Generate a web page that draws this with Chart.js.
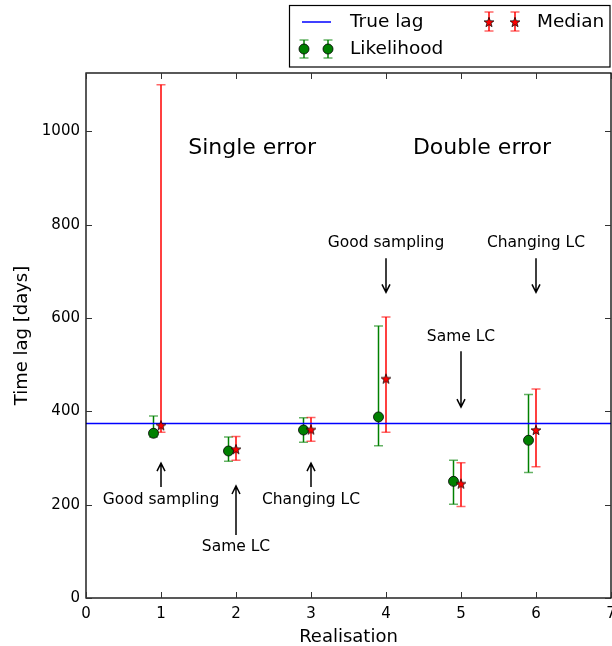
<!DOCTYPE html>
<html>
<head>
<meta charset="utf-8">
<script src="https://cdn.jsdelivr.net/npm/chart.js@4/dist/chart.umd.min.js"></script>
<style>
  html, body { margin: 0; padding: 0; background: #fff; }
  #wrap { width: 612px; height: 646px; }
</style>
</head>
<body>
<div id="wrap"><canvas id="c" width="612" height="646"></canvas></div>
<script>
// Time-lag estimates for each realisation
const realisations   = [1, 2, 3, 4, 5, 6];
const likelihoodLag  = [353, 315, 360, 388, 250, 338];
const likelihoodLow  = [345, 293, 334, 326, 201, 269];
const likelihoodHigh = [390, 345, 386, 583, 295, 436];
const medianLag      = [370, 319, 361, 470, 245, 360];
const medianLow      = [355, 295, 336, 355, 196, 281];
const medianHigh     = [1100, 346, 387, 602, 290, 448];
const trueLag = 374;

const xTicks = [0, 1, 2, 3, 4, 5, 6, 7];
const yTicks = [0, 200, 400, 600, 800, 1000];

// Likelihood points sit slightly left of each realisation
const likelihoodShift = -0.1;

// Text notes on the plot: arrows run from tailY to tipY at x
const headings = [
  { text: 'Single error', x: 2.215, y: 964 },
  { text: 'Double error', x: 5.28,  y: 964 }
];
const notes = [
  { text: 'Good sampling', x: 1, textY: 210, tailY: 238, tipY: 289 },
  { text: 'Same LC',       x: 2, textY: 109, tailY: 135, tipY: 240 },
  { text: 'Changing LC',   x: 3, textY: 210, tailY: 238, tipY: 289 },
  { text: 'Good sampling', x: 4, textY: 760, tailY: 728, tipY: 655 },
  { text: 'Same LC',       x: 5, textY: 559, tailY: 529, tipY: 409 },
  { text: 'Changing LC',   x: 6, textY: 760, tailY: 728, tipY: 655 }
];

const FONT = 'DejaVu Sans';
const GREEN = '#008000';
const RED = '#ff0000';
const BLUE = '#0000ff';
const STAR_R = 5.2;
const DOT_R = 5;

// filled star marker with a thin dark outline
function drawStar(ctx, cx, cy, R) {
  const r = R * 0.42;
  ctx.beginPath();
  for (let k = 0; k < 10; k++) {
    const rad = k % 2 === 0 ? R : r;
    const a = -Math.PI / 2 + k * Math.PI / 5;
    const px = cx + rad * Math.cos(a), py = cy + rad * Math.sin(a);
    if (k === 0) ctx.moveTo(px, py); else ctx.lineTo(px, py);
  }
  ctx.closePath();
  ctx.fillStyle = RED;
  ctx.fill();
  ctx.lineWidth = 0.7;
  ctx.strokeStyle = '#000';
  ctx.stroke();
}
const starImg = document.createElement('canvas');
starImg.width = 14; starImg.height = 14;
drawStar(starImg.getContext('2d'), 7, 7.5, STAR_R);

function drawCircle(ctx, cx, cy, r) {
  ctx.beginPath();
  ctx.arc(cx, cy, r, 0, Math.PI * 2);
  ctx.fillStyle = GREEN;
  ctx.fill();
  ctx.lineWidth = 0.8;
  ctx.strokeStyle = '#000';
  ctx.stroke();
}

function errorBar(ctx, px, pTop, pBot, color, cap) {
  ctx.save();
  ctx.strokeStyle = color;
  ctx.lineWidth = 1.5;
  ctx.beginPath();
  ctx.moveTo(px, pTop); ctx.lineTo(px, pBot);
  ctx.stroke();
  ctx.globalAlpha = 0.6;
  ctx.beginPath();
  ctx.moveTo(px - cap, pTop); ctx.lineTo(px + cap, pTop);
  ctx.moveTo(px - cap, pBot); ctx.lineTo(px + cap, pBot);
  ctx.stroke();
  ctx.restore();
}

// vertical error bars for both estimators, drawn beneath the markers
const errorBarPlugin = {
  id: 'errorBars',
  beforeDatasetsDraw(chart) {
    const { ctx, scales: { x, y } } = chart;
    realisations.forEach((r, i) => {
      errorBar(ctx, x.getPixelForValue(r + likelihoodShift),
        y.getPixelForValue(likelihoodHigh[i]), y.getPixelForValue(likelihoodLow[i]), GREEN, 4.5);
      errorBar(ctx, x.getPixelForValue(r),
        y.getPixelForValue(medianHigh[i]), y.getPixelForValue(medianLow[i]), RED, 4.5);
    });
  }
};

function arrow(ctx, px, y0, y1) {
  const dir = Math.sign(y1 - y0);
  ctx.save();
  ctx.strokeStyle = '#000';
  ctx.lineWidth = 1.5;
  ctx.beginPath();
  ctx.moveTo(px, y0); ctx.lineTo(px, y1);
  ctx.moveTo(px - 4, y1 - dir * 8); ctx.lineTo(px, y1); ctx.lineTo(px + 4, y1 - dir * 8);
  ctx.stroke();
  ctx.restore();
}

// headings, notes, frame with inward ticks, and the legend
const decorPlugin = {
  id: 'decor',
  afterDatasetsDraw(chart) {
    const { ctx, scales: { x, y } } = chart;
    ctx.save();
    ctx.fillStyle = '#000';
    ctx.textAlign = 'center';
    ctx.textBaseline = 'middle';
    ctx.font = `22px "${FONT}"`;
    headings.forEach(h => ctx.fillText(h.text, x.getPixelForValue(h.x), y.getPixelForValue(h.y)));
    ctx.font = `15.5px "${FONT}"`;
    notes.forEach(n => {
      const px = x.getPixelForValue(n.x);
      ctx.fillText(n.text, px, y.getPixelForValue(n.textY));
      arrow(ctx, px, y.getPixelForValue(n.tailY), y.getPixelForValue(n.tipY));
    });
    ctx.restore();
  },
  afterDraw(chart) {
    const { ctx, chartArea: a, scales: { x, y } } = chart;
    ctx.save();
    ctx.strokeStyle = '#000';
    ctx.lineWidth = 1.3;
    ctx.strokeRect(a.left, a.top, a.right - a.left, a.bottom - a.top);
    ctx.lineWidth = 1;
    ctx.strokeStyle = '#333';
    ctx.beginPath();
    xTicks.forEach(v => {
      const px = Math.round(x.getPixelForValue(v)) + 0.5;
      ctx.moveTo(px, a.bottom); ctx.lineTo(px, a.bottom - 6);
      ctx.moveTo(px, a.top); ctx.lineTo(px, a.top + 6);
    });
    yTicks.forEach(v => {
      const py = Math.round(y.getPixelForValue(v)) + 0.5;
      ctx.moveTo(a.left, py); ctx.lineTo(a.left + 6, py);
      ctx.moveTo(a.right, py); ctx.lineTo(a.right - 6, py);
    });
    ctx.stroke();

    // legend
    ctx.fillStyle = '#fff';
    ctx.fillRect(289, 5, 321, 62);
    ctx.strokeStyle = '#000';
    ctx.lineWidth = 1.2;
    ctx.strokeRect(289.5, 5.5, 320.5, 61.5);
    ctx.strokeStyle = BLUE;
    ctx.lineWidth = 1.5;
    ctx.beginPath(); ctx.moveTo(302, 22); ctx.lineTo(331, 22); ctx.stroke();
    [304, 328].forEach(px => {
      errorBar(ctx, px, 40, 58, GREEN, 4.5);
      drawCircle(ctx, px, 49, DOT_R);
    });
    [489, 515].forEach(px => {
      errorBar(ctx, px, 12, 31, RED, 4.5);
      drawStar(ctx, px, 22.5, STAR_R);
    });
    ctx.fillStyle = '#000';
    ctx.textAlign = 'left';
    ctx.textBaseline = 'middle';
    ctx.font = `18.5px "${FONT}"`;
    ctx.fillText(chart.data.datasets[2].label, 350, 22);
    ctx.fillText(chart.data.datasets[1].label, 350, 49);
    ctx.fillText(chart.data.datasets[0].label, 537, 22);
    ctx.restore();
  }
};

const tickFont = { family: FONT, size: 15 };

new Chart(document.getElementById('c'), {
  type: 'scatter',
  data: {
    datasets: [
      {
        label: 'Median',
        data: realisations.map((r, i) => ({ x: r, y: medianLag[i] })),
        pointStyle: starImg,
        pointRadius: 6,
        order: 0
      },
      {
        label: 'Likelihood',
        data: realisations.map((r, i) => ({ x: r + likelihoodShift, y: likelihoodLag[i] })),
        pointStyle: 'circle',
        pointRadius: DOT_R,
        backgroundColor: GREEN,
        borderColor: '#000',
        borderWidth: 0.8,
        order: 1
      },
      {
        label: 'True lag',
        type: 'line',
        data: [{ x: xTicks[0], y: trueLag }, { x: xTicks[xTicks.length - 1], y: trueLag }],
        borderColor: BLUE,
        borderWidth: 1.5,
        pointRadius: 0,
        fill: false,
        order: 2
      }
    ]
  },
  options: {
    responsive: false,
    animation: false,
    devicePixelRatio: 1,
    layout: { autoPadding: false, padding: { top: 73, right: 1, left: 0, bottom: 0 } },
    plugins: { legend: { display: false }, tooltip: { enabled: false } },
    scales: {
      x: {
        type: 'linear',
        min: 0, max: 7,
        afterBuildTicks: s => { s.ticks = xTicks.map(v => ({ value: v })); },
        afterFit: s => { s.height = 48; s.paddingLeft = 0; s.paddingRight = 0; },
        grid: { display: false, drawTicks: false },
        border: { display: false },
        ticks: { padding: 7, color: '#000', font: tickFont, maxRotation: 0, autoSkip: false,
                 callback: v => String(v) },
        title: { display: true, text: 'Realisation', color: '#000',
                 font: { family: FONT, size: 18 }, padding: { top: 0, bottom: -2 } }
      },
      y: {
        type: 'linear',
        min: 0, max: 1125,
        afterBuildTicks: s => { s.ticks = yTicks.map(v => ({ value: v })); },
        afterFit: s => { s.width = 86; s.paddingTop = 0; s.paddingBottom = 0; },
        grid: { display: false, drawTicks: false },
        border: { display: false },
        ticks: { padding: 6, color: '#000', font: tickFont, callback: v => String(v) },
        title: { display: true, text: 'Time lag [days]', color: '#000',
                 font: { family: FONT, size: 18 }, padding: { top: 12, bottom: 0 } }
      }
    }
  },
  plugins: [errorBarPlugin, decorPlugin]
});
</script>
</body>
</html>
